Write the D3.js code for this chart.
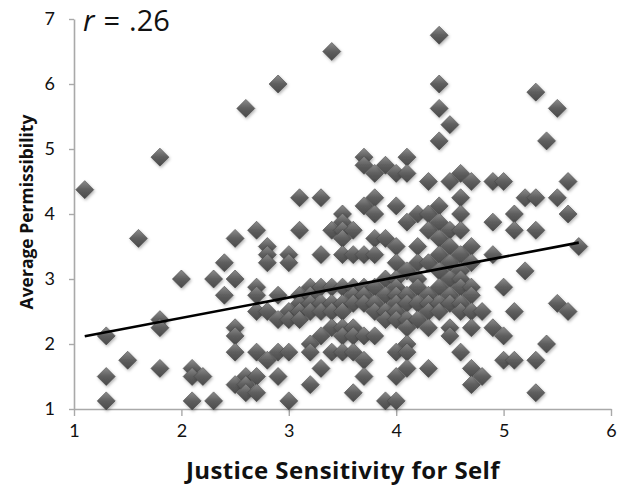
<!DOCTYPE html>
<html>
<head>
<meta charset="utf-8">
<script src="https://cdn.jsdelivr.net/npm/d3@7/dist/d3.min.js"></script>
<style>
  body { margin: 0; background: #fff; }
  text { font-family: Lato, "Open Sans", sans-serif; fill: #111; }
</style>
</head>
<body>
<div id="chart"></div>
<script>
// data: one entry per x column (justice sensitivity), y values stacked in that column
var colX = [1.1, 1.3, 1.5, 1.6, 1.8, 2.0, 2.1, 2.2, 2.3, 2.4,
            2.5, 2.6, 2.7, 2.8, 2.9, 3.0, 3.1, 3.2, 3.3, 3.4,
            3.5, 3.6, 3.7, 3.8, 3.9, 4.0, 4.1, 4.2, 4.3, 4.4,
            4.5, 4.6, 4.7, 4.8, 4.9, 5.0, 5.1, 5.2, 5.3, 5.4,
            5.5, 5.6, 5.7];
var colY = [
  [4.375],
  [2.125, 1.5, 1.125],
  [1.75],
  [3.625],
  [4.875, 2.375, 2.25, 1.625],
  [3.0],
  [1.625, 1.5, 1.125],
  [1.5],
  [3.0, 1.125],
  [3.25, 2.75],
  [3.625, 3.0, 2.25, 2.125, 1.875, 1.375],
  [5.625, 1.5, 1.375, 1.25],
  [3.75, 2.875, 2.75, 2.5, 1.875, 1.5, 1.25],
  [3.5, 3.375, 3.25, 2.5, 1.75],
  [6.0, 2.75, 2.375, 1.875, 1.5],
  [3.375, 3.25, 2.5, 2.375, 1.875, 1.125],
  [4.25, 3.75, 2.75, 2.625, 2.5, 2.375],
  [2.875, 2.75, 2.625, 2.5, 2.0, 1.875, 1.375],
  [4.25, 3.375, 2.875, 2.625, 2.5, 2.125, 1.625],
  [6.5, 3.75, 2.875, 2.625, 2.5, 2.25, 1.875],
  [4.0, 3.875, 3.75, 3.625, 3.375, 2.875, 2.625, 2.5, 2.25, 2.125, 1.875],
  [3.75, 3.375, 2.875, 2.75, 2.625, 2.25, 2.125, 1.875, 1.25],
  [4.875, 4.75, 4.125, 3.375, 2.875, 2.75, 2.625, 2.125, 1.75, 1.5],
  [4.625, 4.25, 4.0, 3.625, 3.375, 2.875, 2.625, 2.5, 2.125],
  [4.75, 3.625, 3.0, 2.75, 2.5, 2.375, 1.125],
  [4.625, 4.125, 3.5, 3.25, 3.0, 2.875, 2.75, 2.625, 2.5, 2.375, 1.875, 1.5, 1.125],
  [4.875, 4.625, 3.875, 3.125, 2.75, 2.625, 2.375, 2.25, 2.0, 1.875, 1.625],
  [4.0, 3.5, 3.25, 3.0, 2.875, 2.625, 2.375],
  [4.5, 4.0, 3.75, 3.25, 2.75, 2.625, 2.5, 2.25, 1.625],
  [6.75, 6.0, 5.625, 5.125, 4.125, 3.875, 3.625, 3.375, 3.125, 2.875, 2.625, 2.5],
  [5.375, 4.5, 3.75, 3.5, 3.25, 3.0, 2.75, 2.625, 2.25, 2.125],
  [4.625, 4.25, 4.0, 3.75, 3.375, 3.125, 3.0, 2.875, 2.625, 2.5, 1.875],
  [4.5, 3.5, 3.25, 2.875, 2.75, 2.5, 2.25, 1.625, 1.375],
  [2.5, 1.5],
  [4.5, 3.875, 3.375, 2.25],
  [4.5, 2.875, 2.125, 1.75],
  [4.0, 3.75, 2.5, 1.75],
  [4.25, 3.125],
  [5.875, 4.25, 3.75, 1.75, 1.25],
  [5.125, 2.0],
  [5.625, 4.25, 2.625],
  [4.5, 4.0, 2.5],
  [3.5]
];

// fitted regression line
var fitX = [1.1, 5.7],
    fitY = [2.12, 3.56];

var xTicks = [1, 2, 3, 4, 5, 6],
    yTicks = [1, 2, 3, 4, 5, 6, 7];

var rLabel = ".26";
var xTitle = "Justice Sensitivity for Self",
    yTitle = "Average Permissibility";

// set up layout
var margin = { top: 19, right: 18, bottom: 86, left: 74 },
    width = 629 - margin.left - margin.right,
    height = 495 - margin.top - margin.bottom;

var data = [];
colX.forEach(function (xv, i) {
    colY[i].forEach(function (yv) {
        data.push({ x: xv, y: yv });
    });
});

var x = d3.scaleLinear().domain([1, 6]).range([0, width]),
    y = d3.scaleLinear().domain([1, 7]).range([height, 0]);

var svg = d3.select("#chart").append("svg")
    .attr("width", 629)
    .attr("height", 495);

// marker styling
var defs = svg.append("defs");
var grad = defs.append("linearGradient")
    .attr("id", "dgrad")
    .attr("x1", 0).attr("y1", 0).attr("x2", 0).attr("y2", 1);
grad.append("stop").attr("offset", "0%").attr("stop-color", "#8c8c8c");
grad.append("stop").attr("offset", "50%").attr("stop-color", "#5e5e5e");
grad.append("stop").attr("offset", "100%").attr("stop-color", "#4a4a4a");

var shadow = defs.append("filter")
    .attr("id", "shadow")
    .attr("x", "-50%").attr("y", "-50%")
    .attr("width", "200%").attr("height", "200%");
shadow.append("feDropShadow")
    .attr("dx", 1).attr("dy", 1.5)
    .attr("stdDeviation", 1.4)
    .attr("flood-color", "#000")
    .attr("flood-opacity", 0.3);

var g = svg.append("g")
    .attr("transform", "translate(" + margin.left + "," + margin.top + ")");

// x-axis
var xAxis = g.append("g")
    .attr("class", "x axis")
    .attr("transform", "translate(0," + height + ")")
    .call(d3.axisBottom(x).tickValues(xTicks).tickFormat(d3.format("d"))
        .tickSize(7).tickSizeOuter(0).tickPadding(8));

// y-axis
var yAxis = g.append("g")
    .attr("class", "y axis")
    .call(d3.axisLeft(y).tickValues(yTicks).tickFormat(d3.format("d"))
        .tickSize(5).tickSizeOuter(0).tickPadding(14));

[xAxis, yAxis].forEach(function (ax) {
    ax.select(".domain").attr("stroke", "#a9a9a9").attr("stroke-width", 1.6);
    ax.selectAll(".tick line").attr("stroke", "#a9a9a9").attr("stroke-width", 1.4);
    ax.selectAll(".tick text")
        .style("font-family", "Lato, 'Open Sans', sans-serif")
        .style("font-size", "18px")
        .attr("fill", "#111");
});

// draw diamonds
var half = 9;
var diamond = "M0," + (-half) + "L" + half + ",0L0," + half + "L" + (-half) + ",0Z";

g.selectAll(".dot")
    .data(data)
    .enter().append("path")
    .attr("class", "dot")
    .attr("d", diamond)
    .attr("transform", function (d) { return "translate(" + x(d.x) + "," + y(d.y) + ")"; })
    .attr("fill", "url(#dgrad)")
    .attr("stroke", "#484848")
    .attr("stroke-width", 0.6)
    .attr("filter", "url(#shadow)");

// trend line
g.append("path")
    .datum(fitX.map(function (v, i) { return [v, fitY[i]]; }))
    .attr("fill", "none")
    .attr("stroke", "#000")
    .attr("stroke-width", 2.6)
    .attr("d", d3.line()
        .x(function (d) { return x(d[0]); })
        .y(function (d) { return y(d[1]); }));

// r label
var rText = g.append("text")
    .attr("x", 9)
    .attr("y", 12)
    .style("font-family", "'Open Sans', sans-serif")
    .style("font-size", "29px");
rText.append("tspan").style("font-style", "italic").text("r");
rText.append("tspan").attr("dx", 9).text("=");
rText.append("tspan").attr("dx", 9).text(rLabel);

// axis titles
svg.append("text")
    .attr("x", 343)
    .attr("y", 479)
    .attr("text-anchor", "middle")
    .style("font-family", "'Open Sans', sans-serif")
    .style("font-size", "24px")
    .style("font-weight", "bold")
    .style("letter-spacing", "0.4px")
    .text(xTitle);

svg.append("text")
    .attr("transform", "translate(33,212) rotate(-90)")
    .attr("text-anchor", "middle")
    .style("font-family", "'Open Sans', sans-serif")
    .style("font-size", "17.5px")
    .style("font-weight", "bold")
    .text(yTitle);
</script>
</body>
</html>
